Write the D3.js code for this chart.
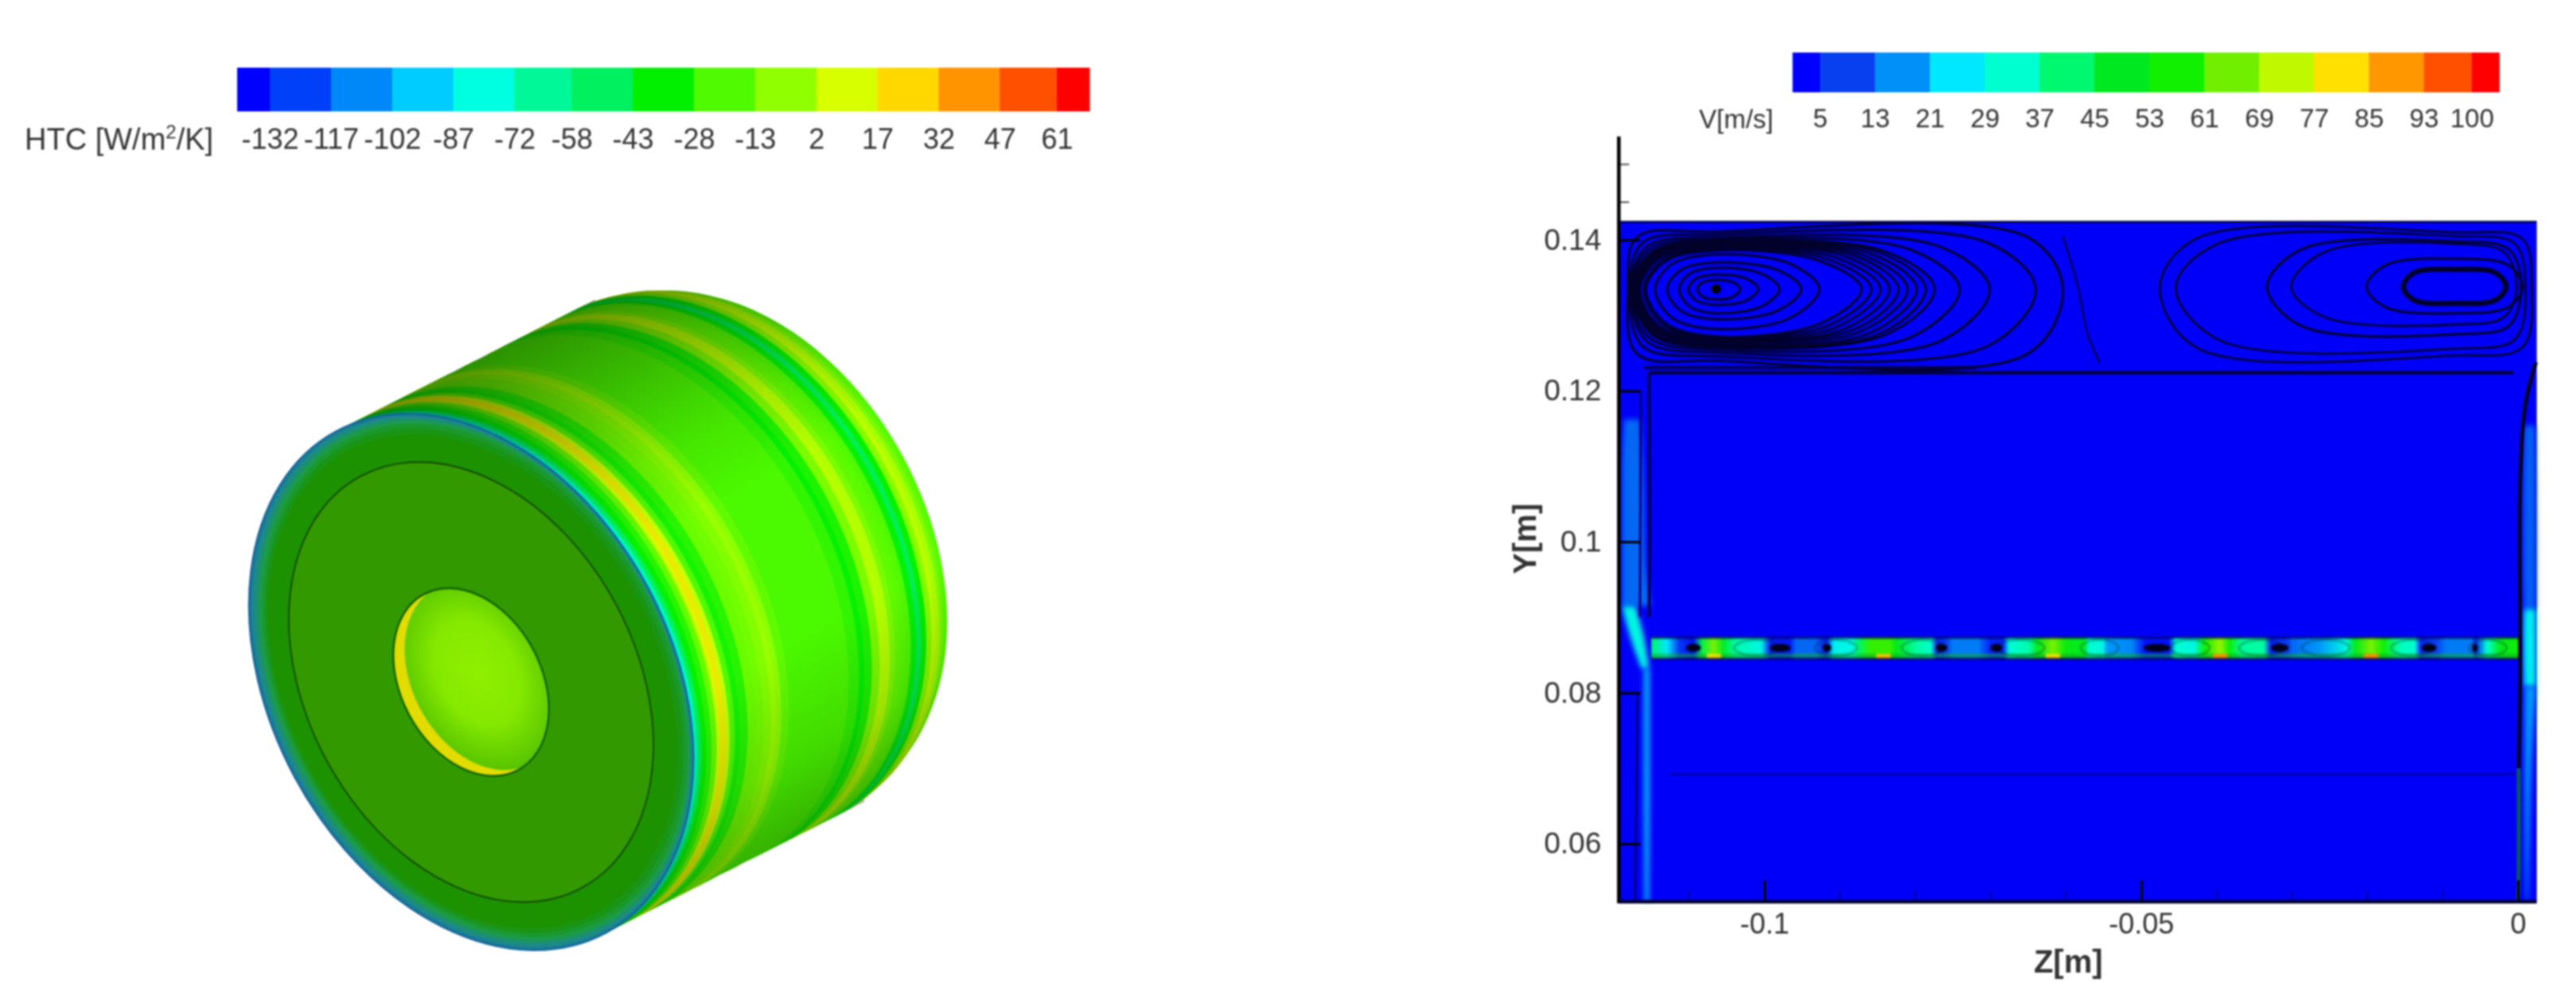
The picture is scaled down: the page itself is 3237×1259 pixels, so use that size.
<!DOCTYPE html>
<html><head><meta charset="utf-8">
<script src="https://cdnjs.cloudflare.com/ajax/libs/d3/7.8.5/d3.min.js"></script>
<style>
html,body{margin:0;padding:0;background:#fff}
svg{display:block;filter:blur(1.1px)}
text{font-family:"Liberation Sans",Arial,sans-serif;fill:#333}
.axis path{display:none}
</style></head><body>
<script>
// ---------- colour bars ----------
const barColors=["#0000ff","#0040f8","#0088f8","#00ccff","#00ffe0","#00f898","#00f060","#00f000","#50fa00","#90ff00","#d8ff00","#ffd800","#ff9400","#ff5000","#ff0000"];
const htcTicks=[-132,-117,-102,-87,-72,-58,-43,-28,-13,2,17,32,47,61];
const htcEnds=[-140,69];
const velTicks=[5,13,21,29,37,45,53,61,69,77,85,93,100];
const velEnds=[1,104];
const velColors=["#0000ff","#0840f0","#0090f8","#00e8ff","#00ffd0","#00f870","#00e820","#10f000","#70f000","#c0f800","#ffe000","#ff9800","#ff5000","#ff0000"];
// ---------- HTC barrel: axial position, HTC value, ellipse scale (back to front) ----------
const stationT=[1.02,1.0,.98,.96,.94,.92,.90,.88,.86,.84,.82,.80,.78,.76,.74,.72,.69,.66,.64,.60,.50,.40,.37,.34,.32,.30,.27,.24,.21,.18,.16,.14,.125,.105,.09,.07,.05,.03,.015,.005];
const stationHTC=[-20,-16,-10,0,4,-8,-35,-48,-35,-20,-18,-16,-10,2,3,-10,-30,-35,-26,-21,-21,-21,-16,-6,-3,-8,-12,-14,-28,-32,-20,6,18,8,-15,-28,-35,-50,-70,-95];
const stationScale=[.955,.97,.98,.99,.995,1,1,1,1,1,1,1,1,1,1,1,1,1,1,1,1,1,1,1,1,1,1,1,1,1,1,1,1,1,1,1,1,1,1,1];
const faceRimS=[1,.99,.98,.97,.955,.94,.92];
const faceRimShift=[0,1.5,3,4,5,4,2];
const faceRimColors=["#1a7a96","#1c8a8a","#1c9070","#1c9a48","#1a982c","#1a9414","#1c9200"];
const faceInnerS=.82, holeS=.35;
const faceColor="#329a00";
// ---------- flow field, right panel ----------
const yTicks=[.14,.12,.1,.08,.06];
const yMinorTicks=[.15,.145];
const xTicks=[-.1,-.05,0];
const xMinorTicks=[-.11,-.09,-.08,-.07,-.06,-.04,-.03,-.02,-.01];
const leftVortexCentre=[-.1064,.1335];
const leftVortex=[
[-.1089,-.1032,.1347,.1321,.72],[-.1101,-.1008,.1354,.1314,.72],[-.1113,-.0980,.1363,.1303,.72],
[-.1129,-.0951,.1370,.1295,.72],[-.1145,-.0927,.1381,.1282,.72],[-.1157,-.0871,.1386,.1272,.72],
[-.1160,-.0858,.1388,.1270,.73],[-.1165,-.0846,.1390,.1268,.74],[-.1167,-.0834,.1392,.1266,.75],
[-.1169,-.0822,.1393,.1265,.76],[-.1171,-.0810,.1395,.1262,.76],[-.1172,-.0798,.1396,.1260,.77],
[-.1173,-.0786,.1397,.1259,.78],[-.1174,-.0774,.1398,.1258,.78],[-.1176,-.0741,.1400,.1255,.8],
[-.1177,-.0701,.1403,.1251,.82],[-.1179,-.0640,.1407,.1246,.85],[-.1181,-.0604,.1411,.1240,.9]];
const rightVortexCentre=[-.0083,.1338];
const rightVortex=[
[-.0152,-.0016,.1361,.1316,.8],[-.0201,.0006,.1375,.1303,.78],[-.0301,-.0002,.1395,.1288,.8],
[-.0333,.0004,.1398,.1275,.82],[-.0454,.0010,.1405,.1256,.85],[-.0475,.0018,.1410,.1247,.88]];
const rightVortexWidth=[6.5,3,2.6,3,2.6,2.6];
const separator=[[-.0604,.1405],[-.0584,.1338],[-.0571,.1275],[-.0555,.1237]];
const partitions=[[.1224,-.1153,-.0006,4.5,"#000040"],[.1231,-.1160,-.0720,4,"#000050"],[.0692,-.1125,-.0003,3,"#0000b0"]];
const bandZ=[-.1150,-.1129,-.1113,-.1094,-.1083,-.1067,-.1054,-.1038,-.1004,-.0992,-.0966,-.0958,-.0933,-.0917,-.0908,-.0883,-.0874,-.0859,-.0833,-.0825,-.0799,-.0779,-.0771,-.0758,-.0750,-.0716,-.0700,-.0683,-.0675,-.0649,-.0637,-.0617,-.0600,-.0574,-.0570,-.0550,-.0546,-.0512,-.0495,-.0463,-.0454,-.0429,-.0416,-.0395,-.0383,-.0366,-.0337,-.0328,-.0304,-.0300,-.0262,-.0228,-.0216,-.0195,-.0178,-.0157,-.0137,-.0129,-.0108,-.0095,-.0061,-.0057,-.0041,-.0024,-.0003,.0001];
const bandV=[42,25,8,3,45,66,48,36,30,4,4,13,13,4,28,30,42,60,60,50,37,33,5,9,15,15,5,5,32,36,50,66,53,48,33,30,18,16,3,3,33,30,55,69,55,37,37,4,9,13,18,30,50,66,55,35,33,5,9,15,15,4,33,50,55,55];
const bandY=[.0874,.0845];
const bandPeaks=[[-.1067,80],[-.0842,84],[-.0617,80],[-.0395,90],[-.0195,90]];
const bandCores=[[-.1094,.0010],[-.0979,.0014],[-.0917,.0006],[-.0765,.0008],[-.0692,.0008],[-.0479,.0018],[-.0316,.0012],[-.0118,.0010],[-.0057,.0004]];
const bandLenses=[[-.1010,.0030],[-.0905,.0028],[-.0790,.0028],[-.0660,.0032],[-.0555,.0025],[-.0435,.0026],[-.0340,.0030],[-.0255,.0032],[-.0140,.0028],[-.0040,.0025]];
const streams=[
 {V:13,y:[.1162,.108,.098,.0915],z0:[-.1186,-.1189,-.1189,-.1189],z1:[-.1165,-.1160,-.1158,-.1150]},
 {V:30,y:[.0915,.0874,.0832],z0:[-.1189,-.1178,-.1163],z1:[-.1171,-.1160,-.1153]},
 {V:20,y:[.0832,.07,.0523],z0:[-.1160,-.1160,-.1159],z1:[-.1152,-.1152,-.1153]},
 {V:12,y:[.1154,.10,.0911],z0:[.0008,.0007,.0008],z1:[.0023,.0024,.0024]},
 {V:28,y:[.0911,.0874,.0808],z0:[.0008,.0007,.0008],z1:[.0024,.0024,.0024]},
 {V:18,y:[.0808,.0748,.0566,.0523],z0:[.0009,.0009,.0010,.0011],z1:[.0024,.0020,.0014,.0013]}];
const darkLines=[
 {w:5,c:"#00002a",p:[[.0024,.1238],[.0010,.1183],[.0003,.1081],[.0003,.0838],[.0001,.0700]]},
 {w:5,c:"#0a5a50",p:[[.0001,.0700],[.0001,.0566],[.0000,.0523]]},
 {w:4,c:"#000060",p:[[-.1153,.1224],[-.1152,.1000],[-.1153,.0900]]},
 {w:3,c:"#000080",p:[[-.1164,.1200],[-.1165,.0900]]},
 {w:3,c:"#000080",p:[[-.1168,.0800],[-.1172,.0523]]}];

// ---------- page ----------
const W=3237,H=1259;
const svg=d3.select("body").append("svg").attr("width",W).attr("height",H);
const defs=svg.append("defs");

function colourBar(ticks,ends,colors,x0,x1,y0,y1,size){
  const s=d3.scaleLinear().domain([ticks[0],ticks[ticks.length-1]]).range([x0,x1]);
  const edges=[ends[0],...ticks,ends[1]];
  svg.append("g").selectAll("rect").data(colors).join("rect")
    .attr("x",(d,i)=>s(edges[i])).attr("width",(d,i)=>s(edges[i+1])-s(edges[i])+.5)
    .attr("y",y0).attr("height",y1-y0).attr("fill",d=>d);
  const g=svg.append("g").attr("class","axis").attr("transform",`translate(0,${y1})`)
    .call(d3.axisBottom(s).tickValues(ticks).tickFormat(d=>String(d)).tickSize(0).tickPadding(21));
  g.selectAll("text").attr("font-size",size).attr("fill","#333").style("font-family",'"Liberation Sans"');
}
colourBar(htcTicks,htcEnds,barColors,339,1328,85,140,36);
colourBar(velTicks,velEnds,velColors,2287,3106,66,116,33);
const t1=svg.append("text").attr("x",31).attr("y",188).attr("font-size",38);
t1.append("tspan").text("HTC [W/m");
t1.append("tspan").text("2").attr("font-size",24).attr("dy",-14);
t1.append("tspan").text("/K]").attr("dy",14);
svg.append("text").attr("x",2135).attr("y",161).attr("font-size",33).text("V[m/s]");

// ---------- cylinder ----------
const surf=d3.scaleLinear()
  .domain([-140,-125,-110,-95,-80,-65,-50,-36,-20,-5,10,25,40,54,66])
  .range(barColors).clamp(true);
const centre=[592,857],axisVec=[325,-165],semi=[358,252],tilt=61.7;
const tx=d3.scaleLinear().domain([0,1]).range([centre[0],centre[0]+axisVec[0]]);
const ty=d3.scaleLinear().domain([0,1]).range([centre[1],centre[1]+axisVec[1]]);
const ell=(sel,t,s,shift=0)=>{
  const cx=tx(t)+shift*.888,cy=ty(t)-shift*.46;
  return sel.attr("cx",cx).attr("cy",cy).attr("rx",semi[0]*s).attr("ry",semi[1]*s)
    .attr("transform",`rotate(${tilt},${cx},${cy})`);
};
const cyl=svg.append("g");
stationT.forEach((t,i)=>{
  cyl.append("ellipse").call(ell,t,stationScale[i]).attr("fill",surf(stationHTC[i]));
});
// circumferential shading over the barrel
const rad=tilt*Math.PI/180,ux=Math.cos(rad),uy=Math.sin(rad);
const midx=tx(.5),midy=ty(.5);
const shade=defs.append("linearGradient").attr("id","shade").attr("gradientUnits","userSpaceOnUse")
  .attr("x1",midx-ux*semi[0]).attr("y1",midy-uy*semi[0]).attr("x2",midx+ux*semi[0]).attr("y2",midy+uy*semi[0]);
[[0,.42],[.12,.28],[.3,.08],[.42,0],[.7,0],[.88,.12],[1,.28]].forEach(d=>shade.append("stop").attr("offset",d[0]).attr("stop-color","#000").attr("stop-opacity",d[1]));
const clip=defs.append("clipPath").attr("id","barrel");
stationT.forEach((t,i)=>clip.append("ellipse").call(ell,t,stationScale[i]));
const ptA=[centre[0]-ux*semi[0],centre[1]-uy*semi[0]],ptB=[centre[0]+ux*semi[0],centre[1]+uy*semi[0]];
clip.append("path").attr("d",`M${ptA}L${ptA[0]+axisVec[0]},${ptA[1]+axisVec[1]}L${ptB[0]+axisVec[0]},${ptB[1]+axisVec[1]}L${ptB}Z`);
svg.append("rect").attr("x",250).attr("y",300).attr("width",1000).attr("height",960).attr("fill","url(#shade)").attr("clip-path","url(#barrel)");
const face=svg.append("g");
faceRimS.forEach((s,i)=>face.append("ellipse").call(ell,0,s,faceRimShift[i]).attr("fill",faceRimColors[i]));
face.append("ellipse").call(ell,0,1).attr("fill","none").attr("stroke","#12609a").attr("stroke-width",1.8);
face.append("ellipse").call(ell,0,faceInnerS).attr("fill",faceColor).attr("stroke","#0f3c00").attr("stroke-width",1.6);
// bore
const holeClip=defs.append("clipPath").attr("id","hole");
holeClip.append("ellipse").call(ell,0,holeS);
const holeGrad=defs.append("radialGradient").attr("id","bore").attr("cx",.47).attr("cy",.52).attr("r",.62);
[[0,"#90f000"],[.45,"#84e800"],[.8,"#5cc800"],[1,"#46b000"]].forEach(d=>holeGrad.append("stop").attr("offset",d[0]).attr("stop-color",d[1]));
const bore=svg.append("g").attr("clip-path","url(#hole)");
bore.append("ellipse").call(ell,0,holeS).attr("fill","#e2dc00");
bore.append("ellipse").call(ell,0,holeS,16).attr("fill","url(#bore)");
svg.append("ellipse").call(ell,0,holeS).attr("fill","none").attr("stroke","#0f6000").attr("stroke-width",2.4);

// ---------- flow panel ----------
const x=d3.scaleLinear().domain([-.1,0]).range([2217,3164]);
const y=d3.scaleLinear().domain([.14,.06]).range([301.4,1060]);
const vel=d3.scaleLinear().domain([1,9,17,25,33,41,49,57,65,73,81,89,97,102]).range(velColors).clamp(true);
const blue="#0000f8";
const zMin=-.1193,zMax=.0025,yMin=.0523,yMax=.1424,axisTop=.1537;
const plot=svg.append("g");
plot.append("rect").attr("x",x(zMin)).attr("y",y(yMax)).attr("width",x(zMax)-x(zMin)).attr("height",y(yMin)-y(yMax)).attr("fill",blue);
streams.forEach(s=>{
  const area=d3.area().y((d,i)=>y(s.y[i])).x0((d,i)=>x(s.z0[i])).x1((d,i)=>x(s.z1[i])).curve(d3.curveMonotoneY);
  plot.append("path").attr("d",area(s.y)).attr("fill",vel(s.V)).style("filter","blur(3px)");
});
// band
const g=defs.append("linearGradient").attr("id","band").attr("gradientUnits","userSpaceOnUse")
  .attr("x1",x(bandZ[0])).attr("x2",x(bandZ[bandZ.length-1])).attr("y1",0).attr("y2",0);
const zSpan=d3.scaleLinear().domain([bandZ[0],bandZ[bandZ.length-1]]).range([0,1]);
bandZ.forEach((z,i)=>g.append("stop").attr("offset",zSpan(z)).attr("stop-color",vel(bandV[i])));
const by0=y(bandY[0]),by1=y(bandY[1]);
const bandG=plot.append("g").style("filter","blur(1.2px)");
bandG.append("rect").attr("x",x(bandZ[0])).attr("width",x(bandZ[bandZ.length-1])-x(bandZ[0])).attr("y",by0).attr("height",by1-by0).attr("fill","url(#band)");
bandG.append("line").attr("x1",x(bandZ[0])).attr("x2",x(bandZ[bandZ.length-1])).attr("y1",by1-4).attr("y2",by1-4).attr("stroke","#12b020").attr("stroke-width",5).attr("opacity",.55);
bandG.selectAll(".peak").data(bandPeaks).join("rect").attr("class","peak")
  .attr("x",d=>x(d[0])-9).attr("width",18).attr("y",by1-6).attr("height",6).attr("fill",d=>vel(d[1]));
bandG.selectAll(".lens").data(bandLenses).join("ellipse").attr("class","lens")
  .attr("cx",d=>x(d[0])).attr("cy",(by0+by1)/2).attr("rx",d=>x(d[0]+d[1])-x(d[0])).attr("ry",(by1-by0)*.36)
  .attr("fill","none").attr("stroke","#003020").attr("stroke-width",1.6).attr("opacity",.55);
bandG.selectAll(".core").data(bandCores).join("ellipse").attr("class","core")
  .attr("cx",d=>x(d[0])).attr("cy",(by0+by1)/2).attr("rx",d=>x(d[0]+d[1])-x(d[0])).attr("ry",5).attr("fill","#000018");
[by0+1,by1].forEach(v=>bandG.append("line").attr("x1",x(bandZ[0])).attr("x2",x(bandZ[bandZ.length-1])).attr("y1",v).attr("y2",v).attr("stroke","#000040").attr("stroke-width",2.5).attr("opacity",.8));
// partitions and dark stream lines
partitions.forEach(p=>plot.append("line").attr("x1",x(p[1])).attr("x2",x(p[2])).attr("y1",y(p[0])).attr("y2",y(p[0])).attr("stroke",p[4]).attr("stroke-width",p[3]));
const ln=d3.line().x(d=>x(d[0])).y(d=>y(d[1])).curve(d3.curveCatmullRom);
darkLines.forEach(l=>plot.append("path").attr("d",ln(l.p)).attr("fill","none").attr("stroke",l.c).attr("stroke-width",l.w));
plot.append("path").attr("d",ln(separator)).attr("fill","none").attr("stroke","#000050").attr("stroke-width",2.4);
// vortices
const loopLine=d3.line().x(d=>x(d[0])).y(d=>y(d[1])).curve(d3.curveCatmullRomClosed);
function loopPts(c,l){
  const [L,R,T,B,k]=l,[cz,cy]=c;
  return [[L,cy],[cz+k*(L-cz),cy+k*(T-cy)],[cz,T],[cz+k*(R-cz),cy+k*(T-cy)],[R,cy],[cz+k*(R-cz),cy+k*(B-cy)],[cz,B],[cz+k*(L-cz),cy+k*(B-cy)]];
}
plot.selectAll(".lv").data(leftVortex).join("path").attr("class","lv")
  .attr("d",d=>loopLine(loopPts(leftVortexCentre,d))).attr("fill","none").attr("stroke","#00002a").attr("stroke-width",3);
plot.selectAll(".rv").data(rightVortex).join("path").attr("class","rv")
  .attr("d",d=>loopLine(loopPts(rightVortexCentre,d))).attr("fill","none").attr("stroke","#00002a").attr("stroke-width",(d,i)=>rightVortexWidth[i]);
plot.append("circle").attr("cx",x(leftVortexCentre[0])).attr("cy",y(leftVortexCentre[1])).attr("r",6).attr("fill","#000");
// axes
const axisColor="#000";
const yAxis=svg.append("g").attr("class","axis").attr("transform",`translate(${x(zMin)},0)`)
  .call(d3.axisLeft(y).tickValues(yTicks).tickFormat(d=>String(d)).tickSize(-27).tickPadding(22));
yAxis.selectAll("line").attr("stroke",axisColor).attr("stroke-width",3);
yAxis.selectAll("text").attr("font-size",37).style("font-family",'"Liberation Sans"').attr("fill","#333");
svg.append("g").selectAll("line").data(yMinorTicks).join("line").attr("x1",x(zMin)).attr("x2",x(zMin)+13)
  .attr("y1",d=>y(d)).attr("y2",d=>y(d)).attr("stroke","#555").attr("stroke-width",2);
const xAxis=svg.append("g").attr("class","axis").attr("transform",`translate(0,${y(yMin)})`)
  .call(d3.axisBottom(x).tickValues(xTicks).tickFormat(d=>String(d)).tickSize(-27).tickPadding(14));
xAxis.selectAll("line").attr("stroke",axisColor).attr("stroke-width",3);
xAxis.selectAll("text").attr("font-size",36).style("font-family",'"Liberation Sans"').attr("fill","#333");
svg.append("g").selectAll("line").data(xMinorTicks).join("line").attr("x1",d=>x(d)).attr("x2",d=>x(d))
  .attr("y1",y(yMin)).attr("y2",y(yMin)-14).attr("stroke","#0000a0").attr("stroke-width",2);
svg.append("line").attr("x1",x(zMin)).attr("x2",x(zMin)).attr("y1",y(axisTop)).attr("y2",y(yMin)+2).attr("stroke","#000").attr("stroke-width",4.5);
svg.append("line").attr("x1",x(zMin)).attr("x2",x(zMax)).attr("y1",y(yMin)).attr("y2",y(yMin)).attr("stroke","#000030").attr("stroke-width",4.5);
svg.append("line").attr("x1",x(zMin)).attr("x2",x(zMax)).attr("y1",y(yMax)).attr("y2",y(yMax)).attr("stroke","#000050").attr("stroke-width",2.5);
svg.append("text").attr("transform",`translate(1930,677) rotate(-90)`).attr("text-anchor","middle").attr("font-size",40).attr("font-weight","bold").attr("fill","#222").text("Y[m]");
svg.append("text").attr("x",2599).attr("y",1222).attr("text-anchor","middle").attr("font-size",40).attr("font-weight","bold").attr("fill","#222").text("Z[m]");
</script>
</body></html>
